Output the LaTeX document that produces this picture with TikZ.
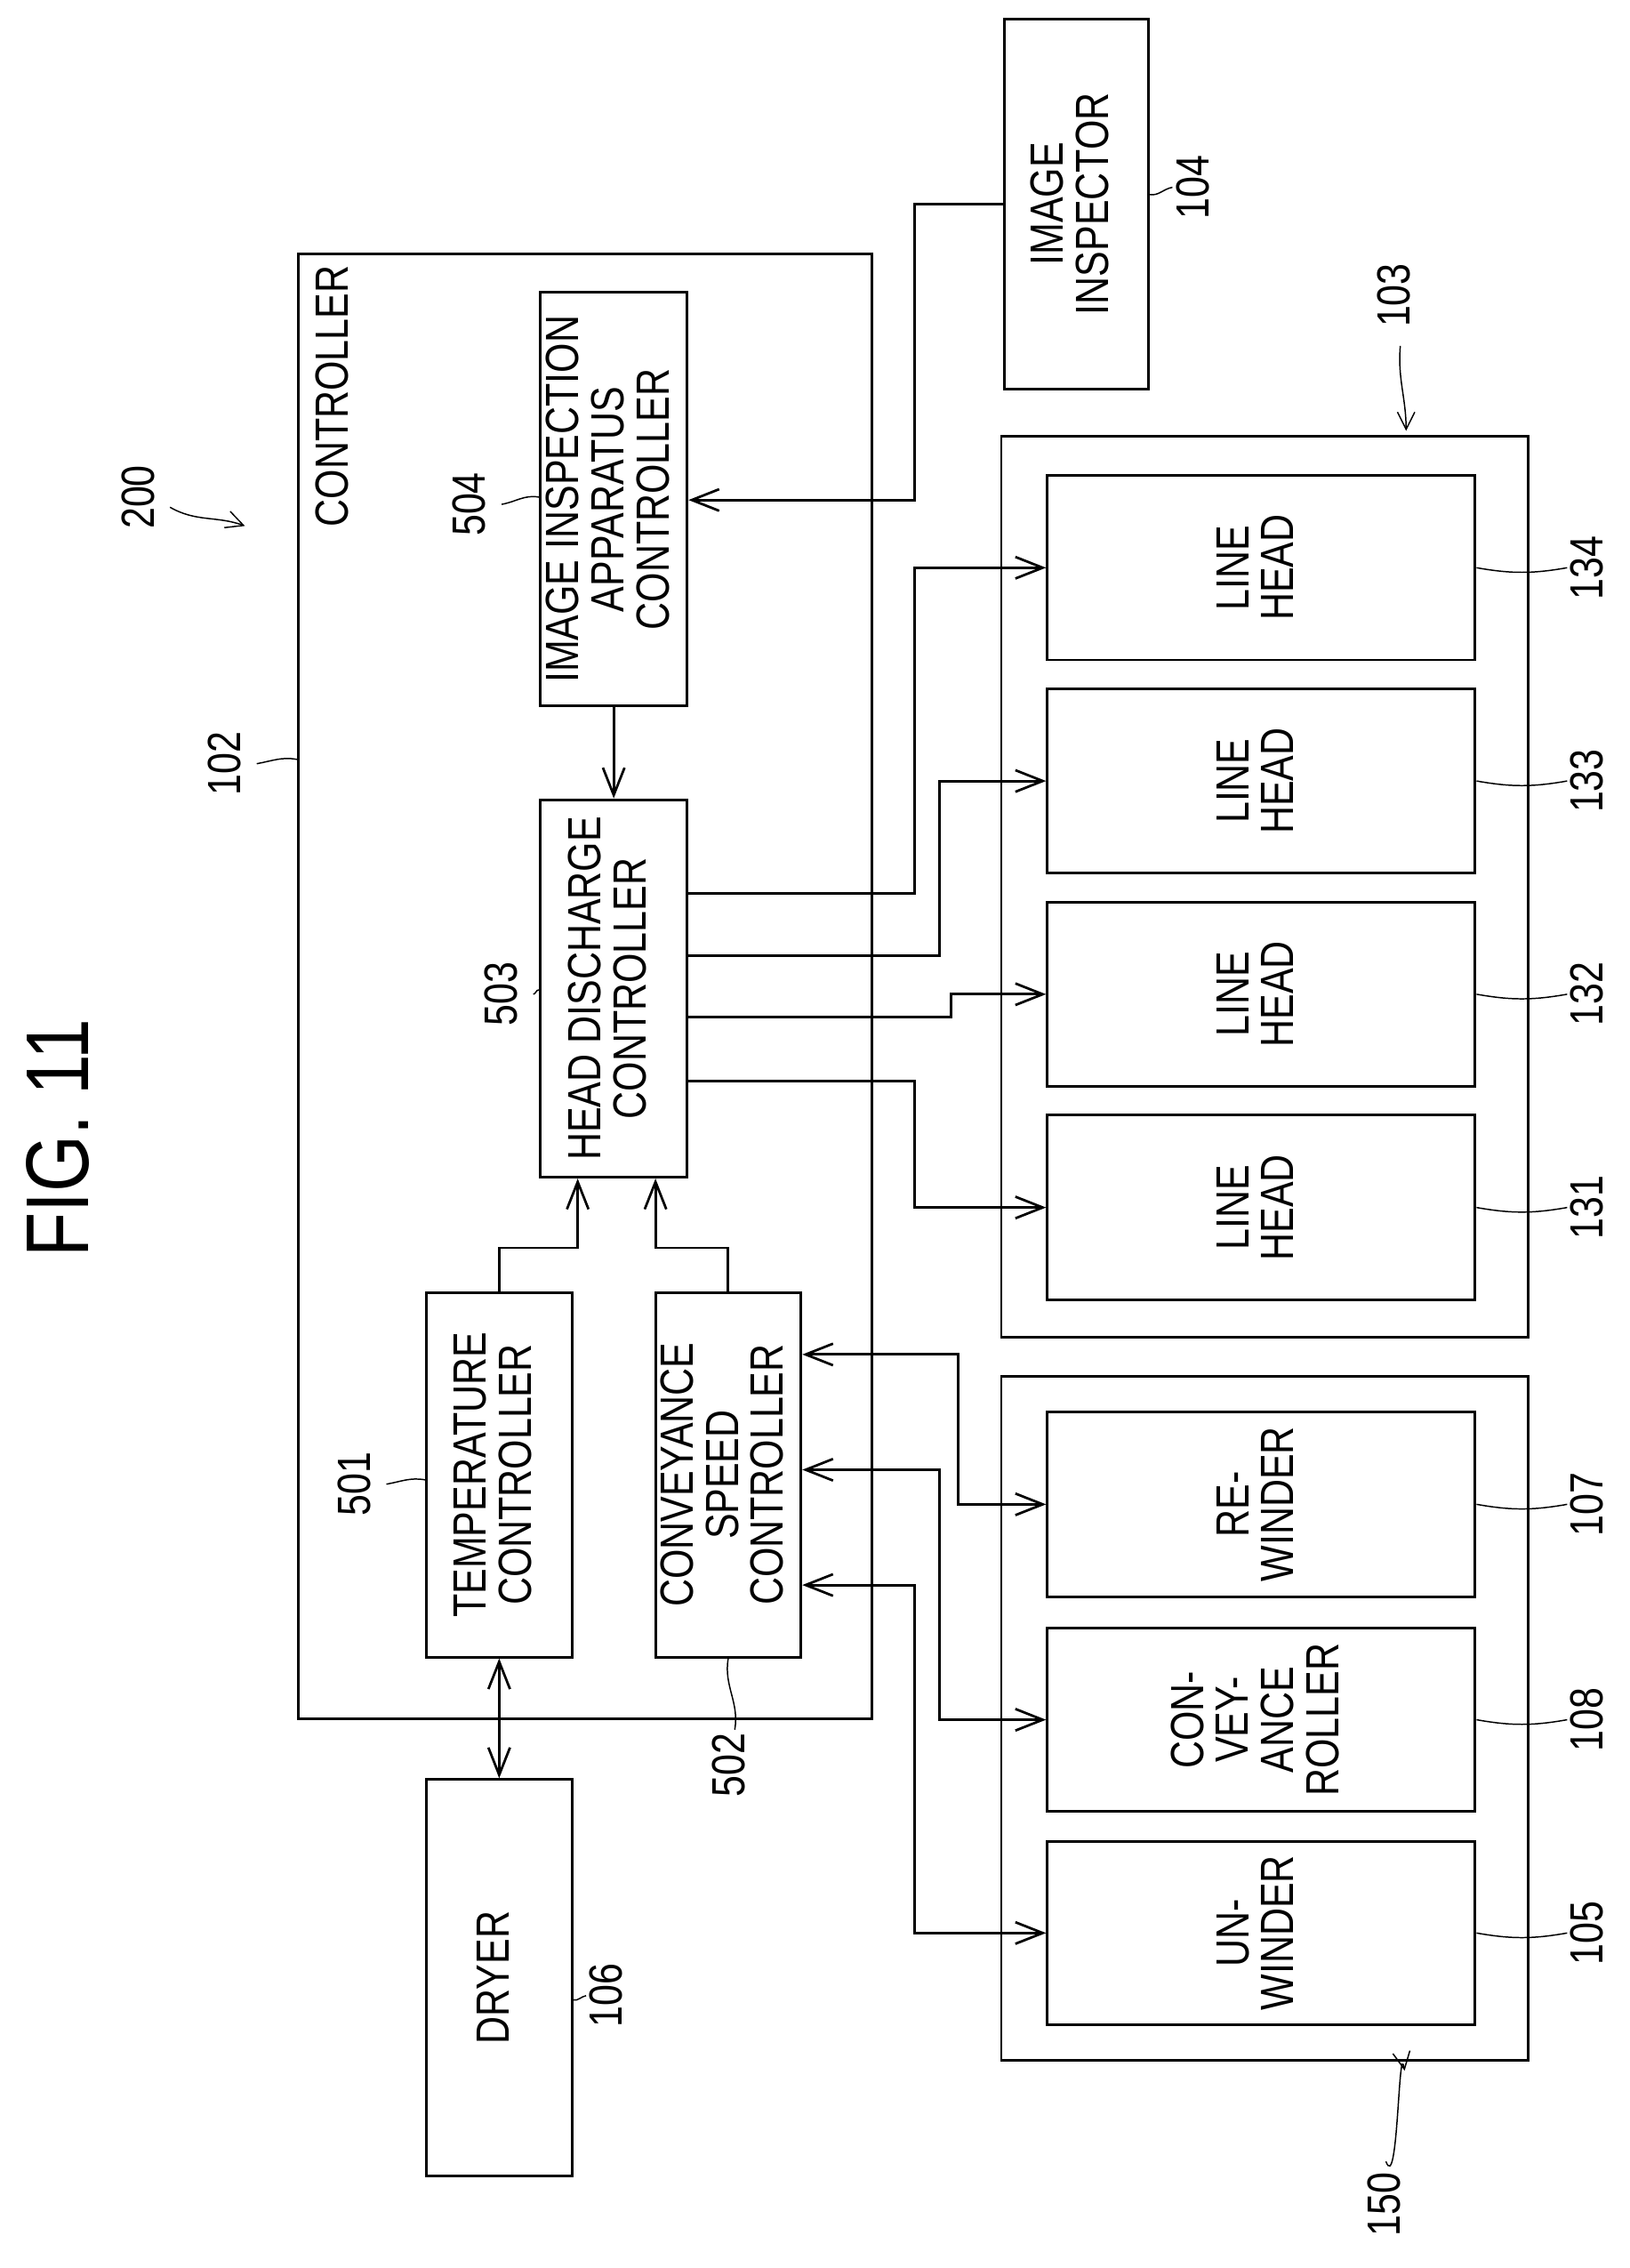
\documentclass[tikz,border=0pt]{standalone}
\usepackage{fontspec}
\setmainfont[FakeStretch=0.82]{Liberation Sans}
\usetikzlibrary{arrows.meta}
\tikzset{
  box/.style={draw,line width=2.6pt,inner sep=0pt,align=center},
  arr/.style={line width=2.6pt,-{Straight Barb[length=0.95cm,width=0.75cm,line width=2.4pt]}},
  darr/.style={line width=2.6pt,{Straight Barb[length=0.95cm,width=0.75cm,line width=2.4pt]}-{Straight Barb[length=0.95cm,width=0.75cm,line width=2.4pt]}},
  lead/.style={line width=1.3pt},
  txt/.style={font=\fontsize{46}{42}\selectfont}
}
\newcommand{\rt}[1]{\rotatebox{90}{\begin{tabular}{@{}c@{}}#1\end{tabular}}}
\begin{document}
\begin{tikzpicture}[x=0.05cm,y=-0.05cm,txt]
\useasboundingbox (0,0) rectangle (1131,1574);
\node[font=\fontsize{88}{88}\selectfont] (fig) at (40,790) {\rotatebox{90}{FIG. 11}};

% controller
\node[box,minimum width=19.9cm,minimum height=50.85cm] (ctrl) at (406,684.5) {};
\node (ctrltxt) at (235,275) {\rt{CONTROLLER}};
\node[box,minimum width=5.1cm,minimum height=14.35cm] (c504) at (426,346.5) {\rt{IMAGE INSPECTION\\APPARATUS\\CONTROLLER}};
\node[box,minimum width=5.1cm,minimum height=13.1cm] (c503) at (426,686) {\rt{HEAD DISCHARGE\\CONTROLLER}};
\node[box,minimum width=5.05cm,minimum height=12.65cm] (c501) at (346.5,1023.5) {\rt{TEMPERATURE\\CONTROLLER}};
\node[box,minimum width=5.05cm,minimum height=12.65cm] (c502) at (505.5,1023.5) {\rt{CONVEYANCE\\SPEED\\CONTROLLER}};
\node[box,minimum width=5.05cm,minimum height=13.75cm] (dryer) at (346.5,1372.5) {\rt{DRYER}};
\node[box,minimum width=5cm,minimum height=12.85cm] (insp) at (747,141.5) {\rt{IMAGE\\INSPECTOR}};

% head unit
\node[box,minimum width=18.3cm,minimum height=31.25cm] (g103) at (878,615.5) {};
\foreach \n/\y in {134/394,133/542,132/690,131/838} {
  \node[box,minimum width=14.85cm,minimum height=6.4cm] (h\n) at (875.5,\y) {\rt{LINE\\HEAD}};
  \node (l\n) at (1106,\y) {\rt{\n}};
  \draw[lead] (h\n.east) to[out=-10,in=190] (l\n.west);
}

% conveyance unit
\node[box,minimum width=18.3cm,minimum height=23.75cm] (g150) at (878,1192.5) {};
\node[box,minimum width=14.85cm,minimum height=6.4cm] (u107) at (875.5,1044) {\rt{RE-\\WINDER}};
\node[box,minimum width=14.85cm,minimum height=6.35cm] (u108) at (875.5,1193.5) {\rt{CON-\\VEY-\\ANCE\\ROLLER}};
\node[box,minimum width=14.85cm,minimum height=6.35cm] (u105) at (875.5,1341.5) {\rt{UN-\\WINDER}};
\foreach \n/\y in {107/1044,108/1193.5,105/1341.5} {
  \node (l\n) at (1106,\y) {\rt{\n}};
}
\draw[lead] (u107.east) to[out=-10,in=190] (l107.west);
\draw[lead] (u108.east) to[out=-10,in=190] (l108.west);
\draw[lead] (u105.east) to[out=-10,in=190] (l105.west);

% reference numbers
\node (l200) at (100,345) {\rt{200}};
\draw[lead,-{Straight Barb[length=0.6cm,width=0.6cm]}] (118,352) to[out=-30,in=160] (170,365);
\node (l102) at (160,530) {\rt{102}};
\draw[lead] (l102.east) to[out=10,in=170] (ctrl.west |- 0,527);
\node (l504) at (330,350) {\rt{504}};
\draw[lead] (l504.east) to[out=10,in=170] (c504.west |- 0,345);
\node (l503) at (352,690) {\rt{503}};
\draw[lead] (l503.east) to[out=10,in=170] (c503.west |- 0,687);
\node (l501) at (250,1030) {\rt{501}};
\draw[lead] (l501.east) to[out=10,in=170] (c501.west |- 0,1027);
\node (l502) at (510,1225) {\rt{502}};
\draw[lead] (c502.south) to[out=-100,in=80] (l502.north);
\node (l106) at (425,1385) {\rt{106}};
\draw[lead] (dryer.east |- 0,1388) to[out=-10,in=190] (l106.west);
\node (l104) at (832,130) {\rt{104}};
\draw[lead] (insp.east |- 0,135) to[out=-10,in=190] (l104.west);
\node (l103) at (972,205) {\rt{103}};
\draw[lead,-{Straight Barb[length=0.6cm,width=0.6cm]}] (972,240) to[out=-95,in=90] (976,299);
\node (l150) at (965,1530) {\rt{150}};
\draw[lead,-{Straight Barb[length=0.6cm,width=0.6cm]}] (962,1500) to[out=-70,in=100] (975,1437);

% connections
\draw[arr] (insp.west) -| (635,347) -- (c504.east |- 0,347);
\draw[arr] (c504.south) -- (c503.north);
\draw[arr] (c501.north) |- (401,866) -- (c503.south -| 401,0);
\draw[arr] (c502.north) |- (455,866) -- (c503.south -| 455,0);
\draw[darr] (c501.south) -- (dryer.north);
\draw[arr] (c503.east |- 0,620) -| (635,394) -- (h134.west);
\draw[arr] (c503.east |- 0,663) -| (652,542) -- (h133.west);
\draw[arr] (c503.east |- 0,706) -| (660,690) -- (h132.west);
\draw[arr] (c503.east |- 0,750) -| (635,838) -- (h131.west);
\draw[darr] (c502.east |- 0,940) -| (665,1044) -- (u107.west);
\draw[darr] (c502.east |- 0,1020) -| (652,1193.5) -- (u108.west);
\draw[darr] (c502.east |- 0,1100) -| (635,1341.5) -- (u105.west);
\end{tikzpicture}
\end{document}
